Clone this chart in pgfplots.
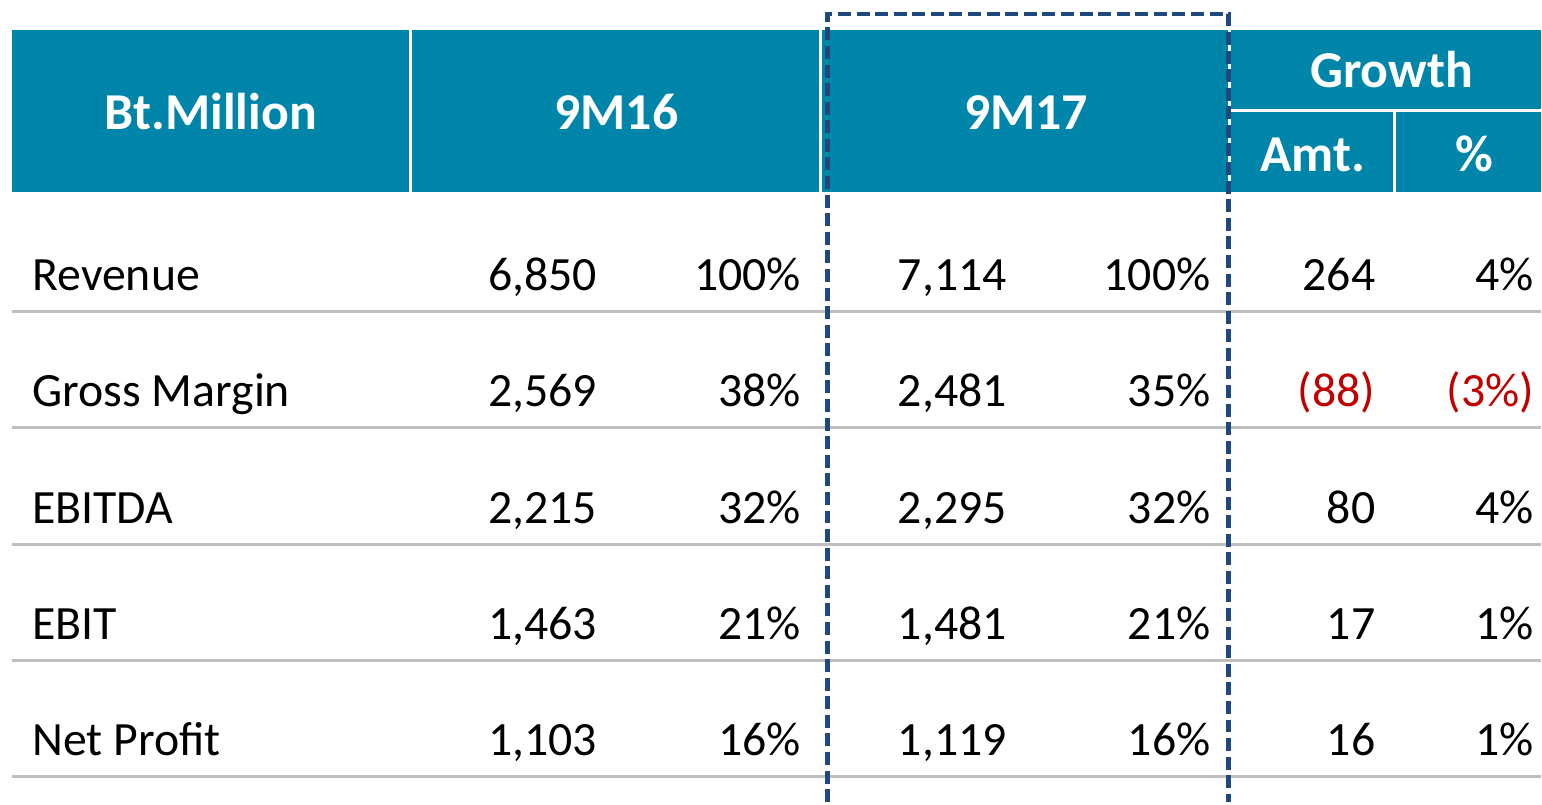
\documentclass[border=0pt]{standalone}
\usepackage{pgfplots}
\pgfplotsset{compat=1.18}
\usepackage{pgfplotstable}
\usepackage{fontspec}
\setmainfont{Carlito}
\definecolor{hdr}{RGB}{0,133,170}
\definecolor{dashblue}{RGB}{31,73,125}
\definecolor{gridgray}{RGB}{191,191,191}
\definecolor{negred}{RGB}{192,0,0}

\pgfplotstableread[col sep=semicolon]{
x;y;t
32;291;Revenue
32;407;Gross Margin
32;524;EBITDA
32;640;EBIT
32;756;Net Profit
}\rowlabels

\pgfplotstableread[col sep=semicolon]{
x;y;t
598;291;6,850
802;291;100\%
1008;291;7,114
1212;291;100\%
1377;291;264
1536;291;4\%
598;407;2,569
802;407;38\%
1008;407;2,481
1212;407;35\%
598;524;2,215
802;524;32\%
1008;524;2,295
1212;524;32\%
1377;524;80
1536;524;4\%
598;640;1,463
802;640;21\%
1008;640;1,481
1212;640;21\%
1377;640;17
1536;640;1\%
598;756;1,103
802;756;16\%
1008;756;1,119
1212;756;16\%
1377;756;16
1536;756;1\%
}\values

\pgfplotstableread[col sep=semicolon]{
x;y;t
1377;407;(88)
1536;407;(3\%)
}\negvalues

\pgfplotstableread[col sep=semicolon]{
x;y;t
211;130;Bt.Million
617;130;9M16
1027;130;9M17
1393;88;Growth
1314;172;Amt.
1476;172;\%
}\headers

\begin{document}
\begin{tikzpicture}
\begin{axis}[
  scale only axis, width=771bp, height=401.5bp,
  xmin=0, xmax=1542, ymin=0, ymax=803, y dir=reverse,
  hide axis, clip=false,
  txt/.style={only marks, mark=*, mark size=0pt, mark options={draw=none,fill=none},
    nodes near coords, point meta=explicit symbolic},
]
\path (axis cs:0,0) rectangle (axis cs:1542,803);
% header band
\fill[hdr] (axis cs:12,30) rectangle (axis cs:1542,192);
\draw[white, line width=1.5bp] (axis cs:411,30) -- (axis cs:411,192);
\draw[white, line width=1.5bp] (axis cs:821,30) -- (axis cs:821,192);
\draw[white, line width=1.5bp] (axis cs:1231,30) -- (axis cs:1231,192);
\draw[white, line width=1.5bp] (axis cs:1231,111) -- (axis cs:1542,111);
\draw[white, line width=1.5bp] (axis cs:1396,111) -- (axis cs:1396,192);
% row separators
\draw[gridgray, line width=1.5bp] (axis cs:12,312) -- (axis cs:1542,312);
\draw[gridgray, line width=1.5bp] (axis cs:12,428) -- (axis cs:1542,428);
\draw[gridgray, line width=1.5bp] (axis cs:12,545) -- (axis cs:1542,545);
\draw[gridgray, line width=1.5bp] (axis cs:12,661) -- (axis cs:1542,661);
\draw[gridgray, line width=1.5bp] (axis cs:12,777) -- (axis cs:1542,777);
% dashed box
\draw[dashblue, line width=2.4bp, dash pattern=on 6.5bp off 2.8bp]
  (axis cs:828,803) -- (axis cs:828,14) -- (axis cs:1230,14) -- (axis cs:1230,803);

\addplot[txt, every node near coord/.append style={anchor=base west, inner sep=0pt,
  font=\fontsize{24}{29}\selectfont, text=black}] table[x=x,y=y,meta=t] {\rowlabels};
\addplot[txt, every node near coord/.append style={anchor=base east, inner sep=0pt,
  font=\fontsize{24}{29}\selectfont, text=black}] table[x=x,y=y,meta=t] {\values};
\addplot[txt, every node near coord/.append style={anchor=base east, inner sep=0pt,
  font=\fontsize{24}{29}\selectfont, text=negred}] table[x=x,y=y,meta=t] {\negvalues};
\addplot[txt, every node near coord/.append style={anchor=base, inner sep=0pt,
  font=\fontsize{26}{30}\selectfont\bfseries, text=white}] table[x=x,y=y,meta=t] {\headers};
\end{axis}
\end{tikzpicture}
\end{document}
